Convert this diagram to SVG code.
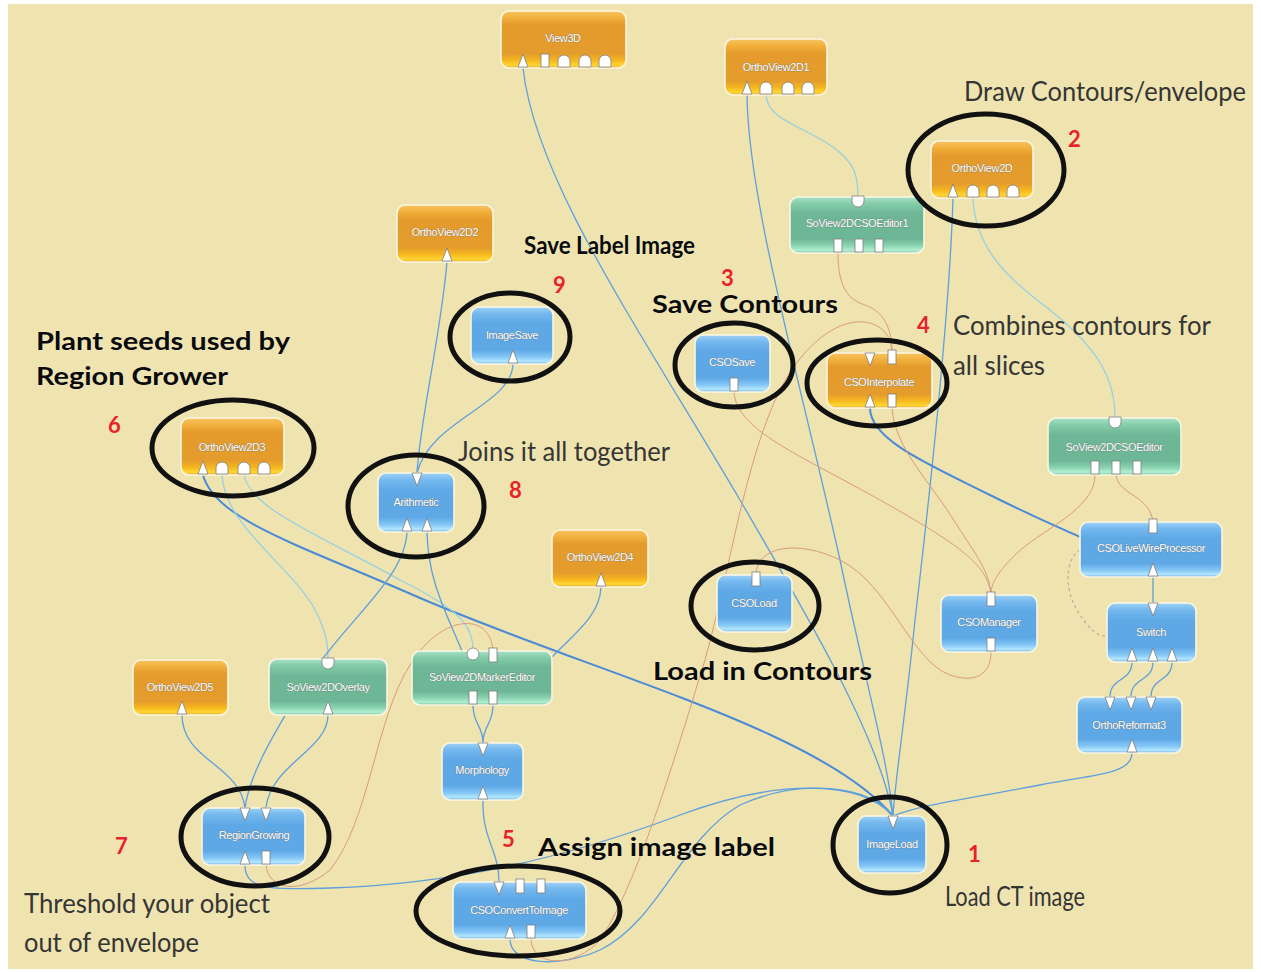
<svg xmlns="http://www.w3.org/2000/svg" width="1261" height="972" viewBox="0 0 1261 972">
  <defs>
    <linearGradient id="gOrange" x1="0" y1="0" x2="0" y2="1">
      <stop offset="0" stop-color="#f7c462"/>
      <stop offset="0.12" stop-color="#f2b03c"/>
      <stop offset="0.25" stop-color="#e49b2c"/>
      <stop offset="0.75" stop-color="#e49c2c"/>
      <stop offset="0.87" stop-color="#f6b81e"/>
      <stop offset="0.95" stop-color="#ffd632"/>
      <stop offset="1" stop-color="#eaa83c"/>
    </linearGradient>
    <linearGradient id="gBlue" x1="0" y1="0" x2="0" y2="1">
      <stop offset="0" stop-color="#9fd2f6"/>
      <stop offset="0.12" stop-color="#74b8ee"/>
      <stop offset="0.3" stop-color="#5ea8e6"/>
      <stop offset="0.75" stop-color="#5ea8e6"/>
      <stop offset="0.88" stop-color="#86c8f6"/>
      <stop offset="0.95" stop-color="#b4e6ff"/>
      <stop offset="1" stop-color="#70b4ea"/>
    </linearGradient>
    <linearGradient id="gGreen" x1="0" y1="0" x2="0" y2="1">
      <stop offset="0" stop-color="#a8e2c6"/>
      <stop offset="0.12" stop-color="#84ccaa"/>
      <stop offset="0.3" stop-color="#6db796"/>
      <stop offset="0.75" stop-color="#6db796"/>
      <stop offset="0.88" stop-color="#8ed6b4"/>
      <stop offset="0.95" stop-color="#b2f0d2"/>
      <stop offset="1" stop-color="#78c2a0"/>
    </linearGradient>

    <!-- port glyphs; origin sits on the node edge -->
    <polygon id="pu" class="port" points="-5,-1 5,-1 0,-14"/>
    <polygon id="pd" class="port" points="-5,0 5,0 0,13"/>
    <rect id="sq" class="port" x="-4" y="-14" width="8" height="13"/>
    <rect id="sqt" class="port" x="-4" y="-3" width="8" height="14"/>
    <path id="dome" class="port" d="M-6,-1 V-7 A6,6 0 0 1 6,-7 V-1 Z"/>
    <path id="cup" class="port" d="M-6,-1 H6 V4 A6,6 0 0 1 -6,4 Z"/>
    <circle id="ball" class="port" cx="0" cy="3" r="6"/>

    <style>
      .port { fill:#ffffff; stroke:#7d7d7d; stroke-width:0.8; }
      .node rect.body { stroke:#fbf6e2; stroke-width:1.6; }
      .orange rect.body { fill:url(#gOrange); }
      .blue rect.body { fill:url(#gBlue); }
      .green rect.body { fill:url(#gGreen); }
      .node text { font-family:"Liberation Sans", Arial, sans-serif; font-size:11px; letter-spacing:-0.4px;
                   fill:#ffffff; stroke:#6c6c6c; stroke-width:0.5; paint-order:stroke; text-anchor:middle; }
      .ring { fill:none; stroke:#111111; stroke-width:5; }
      .c-blue { fill:none; stroke:#5e9fdc; stroke-width:1.3; }
      .c-dark { fill:none; stroke:#4a8ad6; stroke-width:2; }
      .c-cyan { fill:none; stroke:#96d0e2; stroke-width:1.3; }
      .c-orange { fill:none; stroke:#d99a80; stroke-width:1; }
      .c-dash { fill:none; stroke:#b4b0a0; stroke-width:1.2; stroke-dasharray:3 3; }
      .note { font-family:Lato, "Open Sans", sans-serif; font-size:27px; fill:#353535; }
      .bold { font-family:Lato, "Open Sans", sans-serif; font-weight:bold; font-size:24px; fill:#0a0a0a;
              stroke:#f6efc8; stroke-width:0.6; paint-order:stroke; }
      .num { font-family:Lato, "Open Sans", sans-serif; font-weight:bold; font-size:22px; fill:#e8212b; }
    </style>
  </defs>

  <!-- canvas -->
  <rect x="0" y="0" width="1261" height="972" fill="#ffffff"/>
  <rect x="8" y="4" width="1245" height="965" fill="#efe4b0"/>

  <!-- connections -->
  <g id="connectors">
    <!-- image data to ImageLoad -->
    <path class="c-blue" d="M523,68 C535,180 640,330 740,500 C810,620 880,740 893,816"/>
    <path class="c-blue" d="M747,95 C748,200 800,380 840,560 C865,680 888,760 893,816"/>
    <path class="c-blue" d="M953,198 C950,300 935,450 915,620 C905,720 895,780 893,816"/>
    <path class="c-dark" d="M203,475 C215,520 300,545 420,598 C600,675 820,730 893,816"/>
    <path class="c-blue" d="M245,865 C245,890 270,890 330,888 C450,884 560,860 680,815 C780,778 860,780 893,816"/>
    <path class="c-blue" d="M510,939 C510,966 560,968 600,950 C660,920 680,840 740,805 C800,778 870,785 893,816"/>
    <path class="c-blue" d="M1132,753 C1132,775 1090,775 1040,785 C960,800 920,805 893,816"/>

    <!-- viewer scene links -->
    <path class="c-cyan" d="M766,95 C768,120 800,125 830,145 C855,162 858,175 858,197"/>
    <path class="c-cyan" d="M973,198 C975,250 1010,280 1050,310 C1100,350 1115,380 1115,418"/>
    <path class="c-cyan" d="M222,475 C225,530 300,570 320,620 C328,640 328,650 328,659"/>
    <path class="c-cyan" d="M244,475 C250,510 330,540 400,580 C460,610 473,625 473,651"/>

    <!-- label pipeline -->
    <path class="c-blue" d="M447,262 C440,340 420,420 417,473"/>
    <path class="c-blue" d="M513,364 C512,405 430,420 417,473"/>
    <path class="c-blue" d="M407,532 C405,580 345,620 300,690 C280,725 250,770 245,808"/>
    <path class="c-blue" d="M427,532 C428,580 445,610 462,651"/>
    <path class="c-blue" d="M601,587 C600,620 565,640 545,665"/>
    <path class="c-blue" d="M182,715 C182,760 240,765 245,808"/>
    <path class="c-blue" d="M328,715 C328,750 270,765 266,808"/>
    <path class="c-blue" d="M473,705 C473,725 483,725 483,743"/>
    <path class="c-blue" d="M493,705 C493,725 483,725 483,743"/>
    <path class="c-blue" d="M483,800 C482,840 499,850 499,882"/>

    <!-- reformat / live wire chain -->
    <path class="c-dark" d="M870,408 C870,440 930,465 990,495 C1040,520 1065,530 1080,537"/>
    <path class="c-blue" d="M1153,577 L1153,603"/>
    <path class="c-blue" d="M1132,662 C1132,682 1110,677 1110,697"/>
    <path class="c-blue" d="M1153,662 C1153,682 1131,677 1131,697"/>
    <path class="c-blue" d="M1172,662 C1172,682 1151,677 1151,697"/>
    <path class="c-dash" d="M1080,550 C1064,560 1064,592 1080,615 C1090,630 1098,636 1105,636"/>

    <!-- contour (CSO) links -->
    <path class="c-orange" d="M734,392 C736,430 800,455 880,500 C960,545 988,565 991,595"/>
    <path class="c-orange" d="M892,408 C895,450 930,480 960,530 C980,560 990,575 991,595"/>
    <path class="c-orange" d="M1095,475 C1095,510 1040,530 1015,555 C995,575 991,585 991,595"/>
    <path class="c-orange" d="M1116,475 C1118,495 1150,495 1153,522"/>
    <path class="c-orange" d="M756,575 C756,545 800,540 840,560 C890,585 910,660 950,675 C980,685 991,670 991,652"/>
    <path class="c-orange" d="M838,253 C838,290 850,300 865,305 C885,312 892,330 892,353"/>
    <path class="c-orange" d="M531,939 C532,968 575,968 600,940 C640,880 680,740 705,660 C730,570 745,460 780,390 C800,350 830,325 855,322 C880,320 892,335 892,353"/>
    <path class="c-orange" d="M266,865 C268,890 300,895 330,870 C370,820 375,720 410,665 C440,615 490,610 493,651"/>
  </g>

  <!-- modules -->
  <g id="n-view3d" class="node orange">
    <rect class="body" x="501" y="11" width="125" height="57" rx="8"/>
    <text x="563" y="42">View3D</text>
    <use href="#pu" x="523" y="68"/><use href="#sq" x="545" y="68"/>
    <use href="#dome" x="564" y="68"/><use href="#dome" x="585" y="68"/><use href="#dome" x="605" y="68"/>
  </g>
  <g id="n-orthoview2d1" class="node orange">
    <rect class="body" x="725" y="39" width="102" height="56" rx="8"/>
    <text x="776" y="71">OrthoView2D1</text>
    <use href="#pu" x="747" y="95"/><use href="#dome" x="766" y="95"/>
    <use href="#dome" x="788" y="95"/><use href="#dome" x="808" y="95"/>
  </g>
  <g id="n-orthoview2d" class="node orange">
    <rect class="body" x="931" y="141" width="102" height="57" rx="8"/>
    <text x="982" y="172">OrthoView2D</text>
    <use href="#pu" x="953" y="198"/><use href="#dome" x="973" y="198"/>
    <use href="#dome" x="993" y="198"/><use href="#dome" x="1013" y="198"/>
  </g>
  <g id="n-sov2dcsoeditor1" class="node green">
    <rect class="body" x="790" y="197" width="134" height="56" rx="8"/>
    <text x="857" y="227">SoView2DCSOEditor1</text>
    <use href="#cup" x="858" y="197"/>
    <use href="#sq" x="838" y="253"/><use href="#sq" x="859" y="253"/><use href="#sq" x="879" y="253"/>
  </g>
  <g id="n-orthoview2d2" class="node orange">
    <rect class="body" x="397" y="205" width="96" height="57" rx="8"/>
    <text x="445" y="236">OrthoView2D2</text>
    <use href="#pu" x="447" y="262"/>
  </g>
  <g id="n-imagesave" class="node blue">
    <rect class="body" x="471" y="307" width="82" height="57" rx="8"/>
    <text x="512" y="339">ImageSave</text>
    <use href="#pu" x="513" y="364"/>
  </g>
  <g id="n-csosave" class="node blue">
    <rect class="body" x="695" y="335" width="75" height="57" rx="8"/>
    <text x="732" y="366">CSOSave</text>
    <use href="#sq" x="734" y="392"/>
  </g>
  <g id="n-csointerpolate" class="node orange">
    <rect class="body" x="827" y="353" width="105" height="55" rx="8"/>
    <text x="879" y="386">CSOInterpolate</text>
    <use href="#pd" x="870" y="353"/><use href="#sqt" x="892" y="353"/>
    <use href="#pu" x="870" y="408"/><use href="#sq" x="892" y="408"/>
  </g>
  <g id="n-sov2dcsoeditor" class="node green">
    <rect class="body" x="1048" y="418" width="133" height="57" rx="8"/>
    <text x="1114" y="451">SoView2DCSOEditor</text>
    <use href="#cup" x="1115" y="418"/>
    <use href="#sq" x="1095" y="475"/><use href="#sq" x="1116" y="475"/><use href="#sq" x="1137" y="475"/>
  </g>
  <g id="n-orthoview2d3" class="node orange">
    <rect class="body" x="181" y="418" width="103" height="57" rx="8"/>
    <text x="232" y="451">OrthoView2D3</text>
    <use href="#pu" x="203" y="475"/><use href="#dome" x="222" y="475"/>
    <use href="#dome" x="244" y="475"/><use href="#dome" x="264" y="475"/>
  </g>
  <g id="n-arithmetic" class="node blue">
    <rect class="body" x="378" y="473" width="76" height="59" rx="8"/>
    <text x="416" y="506">Arithmetic</text>
    <use href="#pd" x="417" y="473"/>
    <use href="#pu" x="407" y="532"/><use href="#pu" x="427" y="532"/>
  </g>
  <g id="n-csolivewire" class="node blue">
    <rect class="body" x="1080" y="522" width="142" height="55" rx="8"/>
    <text x="1151" y="552">CSOLiveWireProcessor</text>
    <use href="#sqt" x="1153" y="522"/>
    <use href="#pu" x="1153" y="577"/>
  </g>
  <g id="n-orthoview2d4" class="node orange">
    <rect class="body" x="552" y="530" width="96" height="57" rx="8"/>
    <text x="600" y="561">OrthoView2D4</text>
    <use href="#pu" x="601" y="587"/>
  </g>
  <g id="n-csoload" class="node blue">
    <rect class="body" x="717" y="575" width="75" height="57" rx="8"/>
    <text x="754" y="607">CSOLoad</text>
    <use href="#sqt" x="756" y="575"/>
  </g>
  <g id="n-csomanager" class="node blue">
    <rect class="body" x="941" y="595" width="96" height="57" rx="8"/>
    <text x="989" y="626">CSOManager</text>
    <use href="#sqt" x="991" y="595"/>
    <use href="#sq" x="991" y="652"/>
  </g>
  <g id="n-switch" class="node blue">
    <rect class="body" x="1107" y="603" width="89" height="59" rx="8"/>
    <text x="1151" y="636">Switch</text>
    <use href="#pd" x="1153" y="603"/>
    <use href="#pu" x="1132" y="662"/><use href="#pu" x="1153" y="662"/><use href="#pu" x="1172" y="662"/>
  </g>
  <g id="n-orthoview2d5" class="node orange">
    <rect class="body" x="133" y="660" width="95" height="55" rx="8"/>
    <text x="180" y="691">OrthoView2D5</text>
    <use href="#pu" x="182" y="715"/>
  </g>
  <g id="n-sov2doverlay" class="node green">
    <rect class="body" x="269" y="659" width="118" height="56" rx="8"/>
    <text x="328" y="691">SoView2DOverlay</text>
    <use href="#cup" x="328" y="659"/>
    <use href="#pu" x="328" y="715"/>
  </g>
  <g id="n-sov2dmarkereditor" class="node green">
    <rect class="body" x="412" y="651" width="140" height="54" rx="8"/>
    <text x="482" y="681">SoView2DMarkerEditor</text>
    <use href="#ball" x="473" y="651"/><use href="#sqt" x="493" y="651"/>
    <use href="#sq" x="473" y="705"/><use href="#sq" x="493" y="705"/>
  </g>
  <g id="n-orthoreformat3" class="node blue">
    <rect class="body" x="1077" y="697" width="105" height="56" rx="8"/>
    <text x="1129" y="729">OrthoReformat3</text>
    <use href="#pd" x="1110" y="697"/><use href="#pd" x="1131" y="697"/><use href="#pd" x="1151" y="697"/>
    <use href="#pu" x="1132" y="753"/>
  </g>
  <g id="n-morphology" class="node blue">
    <rect class="body" x="442" y="743" width="81" height="57" rx="8"/>
    <text x="482" y="774">Morphology</text>
    <use href="#pd" x="483" y="743"/>
    <use href="#pu" x="483" y="800"/>
  </g>
  <g id="n-regiongrowing" class="node blue">
    <rect class="body" x="202" y="808" width="103" height="57" rx="8"/>
    <text x="254" y="839">RegionGrowing</text>
    <use href="#pd" x="245" y="808"/><use href="#pd" x="266" y="808"/>
    <use href="#pu" x="245" y="865"/><use href="#sq" x="266" y="865"/>
  </g>
  <g id="n-imageload" class="node blue">
    <rect class="body" x="858" y="816" width="68" height="57" rx="8"/>
    <text x="892" y="848">ImageLoad</text>
    <use href="#pd" x="893" y="816"/>
  </g>
  <g id="n-csoconverttoimage" class="node blue">
    <rect class="body" x="453" y="882" width="133" height="57" rx="8"/>
    <text x="519" y="914">CSOConvertToImage</text>
    <use href="#pd" x="499" y="882"/><use href="#sqt" x="520" y="882"/><use href="#sqt" x="541" y="882"/>
    <use href="#pu" x="510" y="939"/><use href="#sq" x="531" y="939"/>
  </g>

  <!-- highlight rings -->
  <g id="rings">
    <ellipse class="ring" cx="986" cy="170" rx="78" ry="56"/>
    <ellipse class="ring" cx="510" cy="337" rx="60" ry="44"/>
    <ellipse class="ring" cx="734" cy="365" rx="59" ry="42"/>
    <ellipse class="ring" cx="877" cy="383" rx="70" ry="43"/>
    <ellipse class="ring" cx="233" cy="448" rx="81" ry="48"/>
    <ellipse class="ring" cx="416" cy="506" rx="68" ry="51"/>
    <ellipse class="ring" cx="755" cy="606" rx="64" ry="44"/>
    <ellipse class="ring" cx="255" cy="837" rx="74" ry="49"/>
    <ellipse class="ring" cx="890" cy="845" rx="57" ry="48"/>
    <ellipse class="ring" cx="518" cy="911" rx="102" ry="45"/>
  </g>

  <!-- annotations -->
  <g id="annotations">
    <text class="note" x="964" y="101" textLength="282" lengthAdjust="spacingAndGlyphs">Draw Contours/envelope</text>
    <text class="num" x="1068" y="147">2</text>
    <text class="bold" x="524" y="254" font-size="23" fill="#262626" textLength="171" lengthAdjust="spacingAndGlyphs">Save Label Image</text>
    <text class="num" x="553" y="293">9</text>
    <text class="num" x="721" y="286" font-size="20">3</text>
    <text class="bold" x="652" y="313" font-size="23" textLength="186" lengthAdjust="spacingAndGlyphs">Save Contours</text>
    <text class="num" x="917" y="333">4</text>
    <text class="note" x="953" y="335" textLength="258" lengthAdjust="spacingAndGlyphs">Combines contours for</text>
    <text class="note" x="953" y="375" textLength="92" lengthAdjust="spacingAndGlyphs">all slices</text>
    <text class="bold" x="36" y="350" textLength="254" lengthAdjust="spacingAndGlyphs">Plant seeds used by</text>
    <text class="bold" x="36" y="385" textLength="192" lengthAdjust="spacingAndGlyphs">Region Grower</text>
    <text class="num" x="108" y="433">6</text>
    <text class="note" x="458" y="461" textLength="212" lengthAdjust="spacingAndGlyphs">Joins it all together</text>
    <text class="num" x="509" y="498">8</text>
    <text class="bold" x="653" y="680" textLength="219" lengthAdjust="spacingAndGlyphs">Load in Contours</text>
    <text class="num" x="502" y="847">5</text>
    <text class="bold" x="538" y="856" textLength="237" lengthAdjust="spacingAndGlyphs">Assign image label</text>
    <text class="num" x="115" y="854">7</text>
    <text class="num" x="968" y="862">1</text>
    <text class="note" x="945" y="906" font-size="24" textLength="140" lengthAdjust="spacingAndGlyphs">Load CT image</text>
    <text class="note" x="24" y="913" textLength="246" lengthAdjust="spacingAndGlyphs">Threshold your object</text>
    <text class="note" x="24" y="952" textLength="175" lengthAdjust="spacingAndGlyphs">out of envelope</text>
  </g>
</svg>
